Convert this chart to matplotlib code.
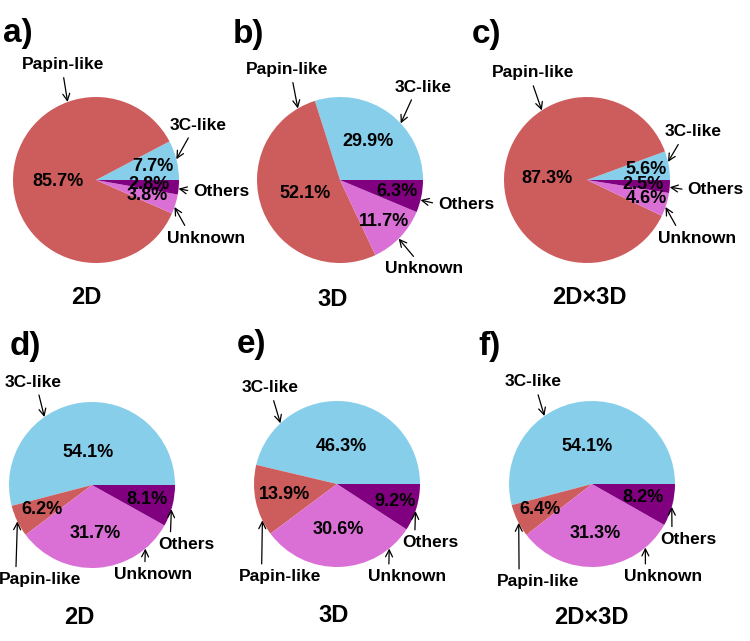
import numpy as np
import matplotlib.pyplot as plt

plt.rcParams["font.family"] = ["Liberation Sans", "DejaVu Sans"]

# Data (wedge order: 3C-like, Papin-like, Unknown, Others; counter-clockwise from 3 o'clock)
categories = ["3C-like", "Papin-like", "Unknown", "Others"]
colors = ["#87CEEB", "#CD5C5C", "#DA70D6", "#800080"]

top_2d = [7.7, 85.7, 3.8, 2.8]
top_3d = [29.9, 52.1, 11.7, 6.3]
top_2d3d = [5.6, 87.3, 4.6, 2.5]
bot_2d = [54.1, 6.2, 31.7, 8.1]
bot_3d = [46.3, 13.9, 30.6, 9.2]
bot_2d3d = [54.1, 6.4, 31.3, 8.2]

series = [top_2d, top_3d, top_2d3d, bot_2d, bot_3d, bot_2d3d]
letters = ["a)", "b)", "c)", "d)", "e)", "f)"]
titles = ["2D", "3D", "2D×3D", "2D", "3D", "2D×3D"]

# Layout (pixels, origin top-left)
W, H = 750, 641
R = 83
L = 1.8
centers = [(96, 180), (340, 180), (587, 180), (92, 485), (337, 484), (592, 484)]
letter_pos = [(3, 42), (233, 43), (472, 43), (10, 355), (237, 353), (478, 355)]
title_pos = [(86, 298), (333, 299), (589, 298), (79, 617), (334, 616), (591, 618)]
pct_radius = [
    [0.70, 0.46, 0.64, 0.64],
    [0.58, 0.45, 0.73, 0.70],
    [0.72, 0.48, 0.75, 0.68],
    [0.40, 0.67, 0.58, 0.69],
    [0.45, 0.64, 0.55, 0.73],
    [0.46, 0.70, 0.60, 0.64],
]
# label, tip angle on rim, text position (pie units), arrow start on text bbox
callouts = [
    [("Papin-like", 110, (-0.40, 1.39), (0.5, 0)),
     ("3C-like", 14.5, (1.23, 0.66), (0.38, 0)),
     ("Others", -6, (1.51, -0.14), (0, 0.5)),
     ("Unknown", -19, (1.33, -0.70), (0.26, 1))],
    [("Papin-like", 120.5, (-0.64, 1.33), (0.56, 0)),
     ("3C-like", 43, (1.00, 1.12), (0.34, 0)),
     ("Others", -14, (1.52, -0.29), (0, 0.5)),
     ("Unknown", -45, (1.01, -1.07), (0.42, 1))],
    [("Papin-like", 123, (-0.65, 1.29), (0.48, 0)),
     ("3C-like", 12.6, (1.28, 0.58), (0.29, 0)),
     ("Others", -5, (1.55, -0.12), (0, 0.5)),
     ("Unknown", -19, (1.33, -0.70), (0.26, 1))],
    [("3C-like", 125, (-0.71, 1.24), (0.58, 0)),
     ("Papin-like", 206, (-0.63, -1.14), (0.21, 1)),
     ("Unknown", -50, (0.73, -1.08), (0.40, 1)),
     ("Others", -17, (1.14, -0.72), (0.21, 1))],
    [("3C-like", 133, (-0.81, 1.16), (0.54, 0)),
     ("Papin-like", 206, (-0.69, -1.12), (0.28, 1)),
     ("Unknown", -51, (0.84, -1.12), (0.27, 1)),
     ("Others", -19, (1.12, -0.71), (0.23, 1))],
    [("3C-like", 125, (-0.71, 1.23), (0.56, 0)),
     ("Papin-like", 208, (-0.65, -1.18), (0.27, 1)),
     ("Unknown", -50, (0.86, -1.12), (0.27, 1)),
     ("Others", -16, (1.16, -0.67), (0.21, 1))],
]

fig = plt.figure(figsize=(7.5, 6.41), dpi=100)

for i, vals in enumerate(series):
    cx, cy = centers[i]
    ax = fig.add_axes([(cx - L * R) / W, 1 - (cy + L * R) / H, 2 * L * R / W, 2 * L * R / H])
    total = sum(vals)
    wedges, texts, autotexts = ax.pie(
        vals, colors=colors, startangle=0, counterclock=True,
        autopct=lambda p, s=total: f"{p * s / 100:.1f}%",
        wedgeprops=dict(linewidth=0),
        textprops=dict(fontsize=13, fontweight="bold", color="black"),
    )
    # move percentage labels to their own radius along each wedge's bisector
    for w, t, r in zip(wedges, autotexts, pct_radius[i]):
        mid = np.deg2rad((w.theta1 + w.theta2) / 2)
        t.set_position((r * np.cos(mid), r * np.sin(mid)))
        t.set_ha("center")
        t.set_va("center")
    ax.set_xlim(-L, L)
    ax.set_ylim(-L, L)
    ax.set_aspect("equal")
    ax.axis("off")

    for label, ang, txy, relpos in callouts[i]:
        a = np.deg2rad(ang)
        ax.annotate(
            label, xy=(np.cos(a), np.sin(a)), xytext=txy,
            ha="center", va="center", fontsize=12.5, fontweight="bold",
            arrowprops=dict(arrowstyle="->", color="black", lw=0.9,
                            relpos=relpos, shrinkA=2, shrinkB=0),
            annotation_clip=False,
        )

    lx, ly = letter_pos[i]
    fig.text(lx / W, 1 - ly / H, letters[i], fontsize=24, fontweight="bold",
             ha="left", va="baseline")
    tx, ty = title_pos[i]
    fig.text(tx / W, 1 - ty / H, titles[i], fontsize=17, fontweight="bold",
             ha="center", va="center")

fig.savefig("out.png", dpi=100)
